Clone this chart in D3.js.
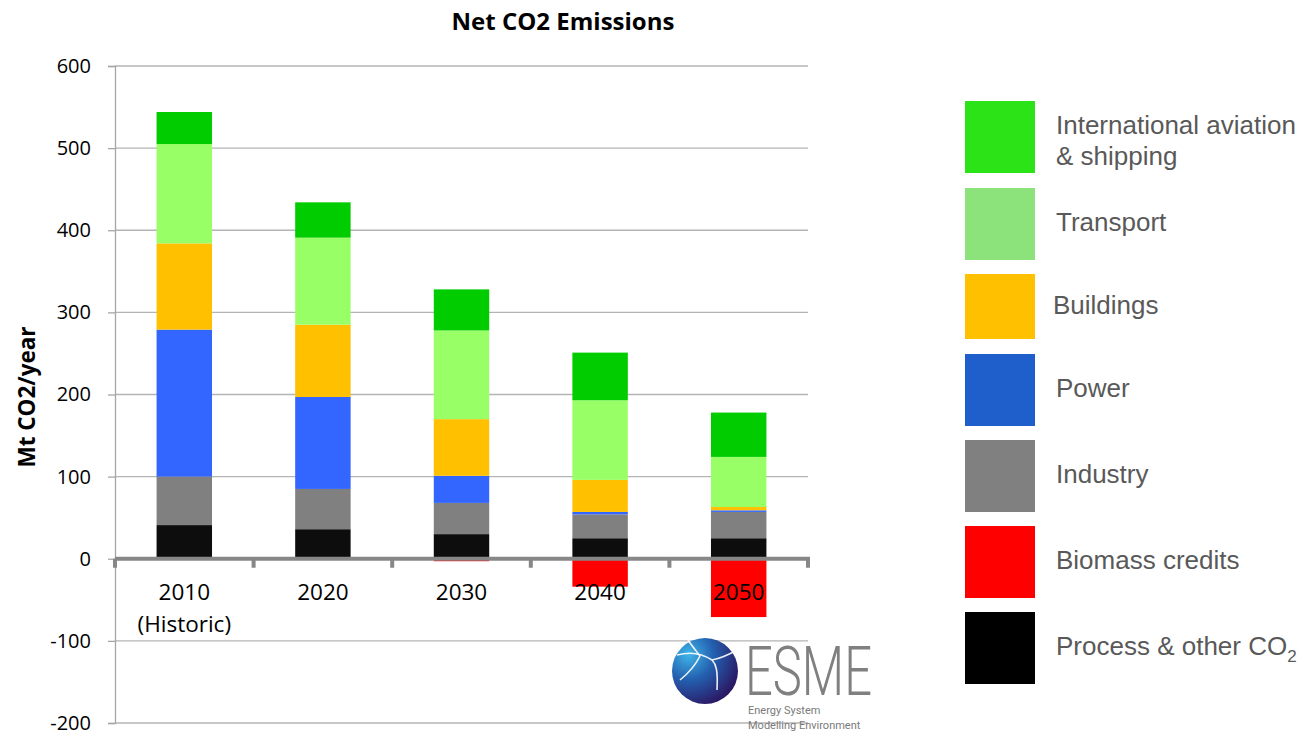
<!DOCTYPE html>
<html><head><meta charset="utf-8">
<script src="https://cdn.jsdelivr.net/npm/d3@7"></script>
<style>body{margin:0;background:#fff;} svg{display:block;}</style>
</head><body>
<svg id="chart" width="1309" height="731"></svg>
<script>
// ---- data ----
const categories = ["2010", "2020", "2030", "2040", "2050"];
const categorySub = ["(Historic)", "", "", "", ""];
const processCO2 = [41, 36, 30, 25, 25];
const biomassCredits = [0, 0, -3, -34, -71];
const industry = [59, 49, 38, 29, 32];
const power = [179, 112, 33, 3, 2];
const buildings = [105, 88, 69, 39, 4];
const transport = [121, 106, 108, 97, 61];
const intlAviation = [39, 43, 50, 58, 54];
const yTicks = [-200, -100, 0, 100, 200, 300, 400, 500, 600];

const seriesKeys = ["process", "biomass", "industry", "power", "buildings", "transport", "intl"];
const seriesData = {process: processCO2, biomass: biomassCredits, industry, power, buildings, transport, intl: intlAviation};
const barColors = {intl: "#00CC00", transport: "#99FF66", buildings: "#FFC000", power: "#3366FF", industry: "#808080", biomass: "#FF0000", process: "#0D0D0D"};

const legendLabels = ["International aviation|& shipping", "Transport", "Buildings", "Power", "Industry", "Biomass credits", "Process & other CO"];
const legendColors = ["#2BE316", "#8CE37C", "#FFC000", "#1F5FCB", "#808080", "#FF0000", "#000000"];

// ---- build ----
const svg = d3.select("#chart");
const table = categories.map((c, i) => {
  const row = {cat: c};
  seriesKeys.forEach(k => row[k] = seriesData[k][i]);
  return row;
});
const stack = d3.stack().keys(seriesKeys).offset(d3.stackOffsetDiverging);
const stacked = stack(table);

const x = d3.scaleBand().domain(categories).range([115, 808]).padding(0);
const y = d3.scaleLinear().domain([-200, 600]).range([723, 66]);
const barW = x.bandwidth() * 0.4;
const barOff = (x.bandwidth() - barW) / 2;

// gridlines
svg.append("g").selectAll("line").data(yTicks.filter(t => t !== 0)).join("line")
  .attr("x1", 115).attr("x2", 808)
  .attr("y1", d => y(d)).attr("y2", d => y(d))
  .attr("stroke", "#B4B4B4").attr("stroke-width", 1.3);

// y axis
const yAxis = d3.axisLeft(y).tickValues(yTicks).tickSize(7).tickPadding(17).tickFormat(d => String(d));
const gy = svg.append("g").attr("transform", "translate(115,0)").call(yAxis);
gy.select(".domain").attr("stroke", "#A6A6A6").attr("stroke-width", 1.3);
gy.selectAll(".tick line").attr("stroke", "#A6A6A6").attr("stroke-width", 1.3);
gy.selectAll(".tick text").attr("font-family", "'Open Sans', sans-serif").attr("font-size", 20).attr("fill", "#000");

// bars
svg.append("g").selectAll("g").data(stacked).join("g")
  .attr("fill", d => barColors[d.key])
  .selectAll("rect").data(d => d).join("rect")
  .attr("x", d => x(d.data.cat) + barOff)
  .attr("width", barW)
  .attr("y", d => y(Math.max(d[0], d[1])))
  .attr("height", d => Math.abs(y(d[0]) - y(d[1])));

// x axis at zero
const xAxisG = svg.append("g");
xAxisG.append("line").attr("x1", 115).attr("x2", 810).attr("y1", y(0)).attr("y2", y(0))
  .attr("stroke", "#878787").attr("stroke-width", 4);
const boundaries = categories.map(c => x(c)).concat([x(categories[categories.length - 1]) + x.bandwidth()]);
xAxisG.selectAll("line.tk").data(boundaries).join("line").attr("class", "tk")
  .attr("x1", d => d).attr("x2", d => d)
  .attr("y1", y(0)).attr("y2", y(0) + 9)
  .attr("stroke", "#878787").attr("stroke-width", 4);

// category labels
const lab = svg.append("g").selectAll("text").data(categories).join("text")
  .attr("x", c => x(c) + x.bandwidth() / 2)
  .attr("y", 600)
  .attr("text-anchor", "middle")
  .attr("font-family", "'Open Sans', sans-serif").attr("font-size", 22.5).attr("fill", "#000");
lab.append("tspan").text(c => c);
lab.append("tspan").attr("x", c => x(c) + x.bandwidth() / 2).attr("dy", 32).text((c, i) => categorySub[i]);

// title
svg.append("text").attr("x", 563).attr("y", 30).attr("text-anchor", "middle")
  .attr("font-family", "'Open Sans', sans-serif").attr("font-weight", "bold").attr("font-size", 24)
  .text("Net CO2 Emissions");

// y axis title
svg.append("text").attr("transform", "translate(35,397) rotate(-90)").attr("text-anchor", "middle")
  .attr("font-family", "'Open Sans', sans-serif").attr("font-weight", "bold").attr("font-size", 22.5)
  .text("Mt CO2/year");

// legend
const legendTops = [101, 188, 274, 354, 440, 526, 612];
const legendHeights = [72, 72, 65, 72, 72, 72, 72];
const lg = svg.append("g");
legendLabels.forEach((l, i) => {
  const top = legendTops[i];
  const h = legendHeights[i];
  lg.append("rect").attr("x", 965).attr("y", top).attr("width", 70).attr("height", h).attr("fill", legendColors[i]);
  const lines = l.split("|");
  const t = lg.append("text").attr("x", i === 2 ? 1053 : 1056)
    .attr("font-family", "'Liberation Sans', Arial, sans-serif").attr("font-size", 26).attr("fill", "#595959");
  if (lines.length === 2) {
    t.attr("y", top + 33);
    t.append("tspan").text(lines[0]);
    t.append("tspan").attr("x", 1056).attr("dy", 31).text(lines[1]);
  } else {
    t.attr("y", top + h / 2 + 7).text(lines[0]);
    if (i === 6) t.append("tspan").attr("font-size", 17).attr("dy", 7).text("2");
  }
});

// ESME logo
const defs = svg.append("defs");
const grad = defs.append("radialGradient").attr("id", "globe").attr("cx", "25%").attr("cy", "25%").attr("r", "85%");
grad.append("stop").attr("offset", "0%").attr("stop-color", "#3FB6E8");
grad.append("stop").attr("offset", "45%").attr("stop-color", "#2460B0");
grad.append("stop").attr("offset", "100%").attr("stop-color", "#2B145F");
const logo = svg.append("g");
logo.append("circle").attr("cx", 705).attr("cy", 671).attr("r", 33).attr("fill", "url(#globe)");
const wl = [
  "M677,655 C688,652 700,652 712,660",
  "M688,640 C692,646 697,652 700,656",
  "M712,660 C716,664 718,670 717,690",
  "M712,660 C722,658 730,654 737,650",
  "M700,656 C696,664 690,672 680,680"
];
logo.selectAll("path").data(wl).join("path").attr("d", d => d)
  .attr("fill", "none").attr("stroke", "#fff").attr("stroke-width", 1.6).attr("opacity", 0.9);
logo.append("text").attr("x", 745).attr("y", 695).attr("textLength", 127).attr("lengthAdjust", "spacingAndGlyphs")
  .attr("font-family", "Roboto, sans-serif").attr("font-weight", 300).attr("font-size", 68).attr("fill", "#808080").text("ESME");
logo.append("text").attr("x", 748).attr("y", 714).attr("font-family", "Roboto, sans-serif").attr("font-size", 11).attr("fill", "#7A7A7A").text("Energy System");
logo.append("text").attr("x", 748).attr("y", 729).attr("font-family", "Roboto, sans-serif").attr("font-size", 11).attr("fill", "#7A7A7A").text("Modelling Environment");
</script>
</body></html>
